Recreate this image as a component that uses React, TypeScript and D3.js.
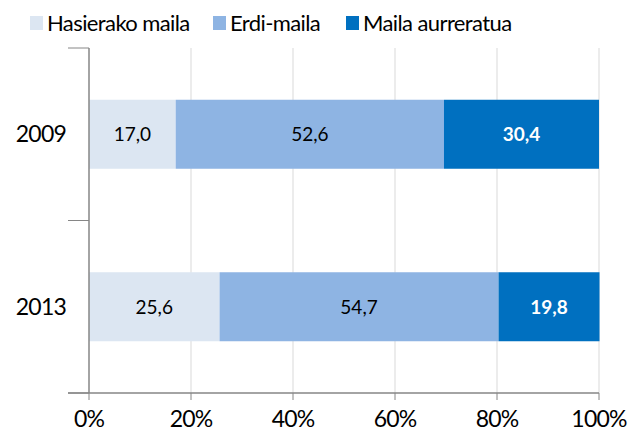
import React from "react";
import * as d3 from "d3";

const categories = ["2009", "2013"];
const seriesNames = ["Hasierako maila", "Erdi-maila", "Maila aurreratua"];
const hasierako = [17.0, 25.6];
const erdi = [52.6, 54.7];
const aurreratua = [30.4, 19.8];
const xTicks = [0, 20, 40, 60, 80, 100];

const colors = ["#DCE6F2", "#8EB4E3", "#0070C0"];
const labelColors = ["#000", "#000", "#fff"];
const labelWeights = [400, 400, 700];

export default function App() {
  const W = 630, H = 436;
  const left = 89, right = 599, top = 48, bottom = 393;
  const x = d3.scaleLinear().domain([0, 100]).range([left, right]);
  const y = d3.scaleBand().domain(categories).range([top, bottom]).padding(0);
  const barH = y.bandwidth() * 0.4;
  const series = [hasierako, erdi, aurreratua];
  const font = "Lato, 'Open Sans', sans-serif";
  const fmt = (v: number) => v.toFixed(1).replace(".", ",");

  const legendX = [30, 213, 346];

  return (
    <svg width={W} height={H} style={{ position: "absolute", left: 0, top: 0 }} fontFamily={font}>
      <rect width={W} height={H} fill="#fff" />
      {xTicks.map((t) => (
        <g key={t}>
          {t > 0 && <line x1={x(t)} x2={x(t)} y1={top} y2={bottom} stroke="#D9D9D9" strokeWidth={1} />}
          <line x1={x(t)} x2={x(t)} y1={bottom} y2={bottom + 7} stroke="#868686" strokeWidth={1} />
          <text x={x(t)} y={bottom + 34} textAnchor="middle" fontSize={23} letterSpacing={-0.8} fill="#000">{t}%</text>
        </g>
      ))}
      {categories.map((c, i) => {
        let acc = 0;
        const yc = (y(c) as number) + y.bandwidth() / 2;
        return (
          <g key={c}>
            {series.map((s, k) => {
              const x0 = x(acc);
              acc += s[i];
              const x1 = x(acc);
              return (
                <g key={k}>
                  <rect x={x0} y={yc - barH / 2} width={x1 - x0} height={barH} fill={colors[k]} />
                  <text x={(x0 + x1) / 2} y={yc + 7} textAnchor="middle" fontSize={19} fill={labelColors[k]} fontWeight={labelWeights[k]}>{fmt(s[i])}</text>
                </g>
              );
            })}
            <text x={66} y={yc + 8} textAnchor="end" fontSize={23} letterSpacing={-0.8} fill="#000">{c}</text>
          </g>
        );
      })}
      <line x1={left} x2={left} y1={top} y2={bottom} stroke="#868686" strokeWidth={1.5} />
      {[top, top + y.step(), bottom].map((v, i) => (
        <line key={i} x1={68} x2={left} y1={v} y2={v} stroke="#868686" strokeWidth={1} />
      ))}
      <line x1={68} x2={right} y1={bottom} y2={bottom} stroke="#868686" strokeWidth={1.5} />
      {seriesNames.map((n, k) => (
        <g key={n}>
          <rect x={legendX[k]} y={16} width={13} height={14} fill={colors[k]} />
          <text x={legendX[k] + 17} y={31} fontSize={22} letterSpacing={-0.6} fill="#000">{n}</text>
        </g>
      ))}
    </svg>
  );
}
